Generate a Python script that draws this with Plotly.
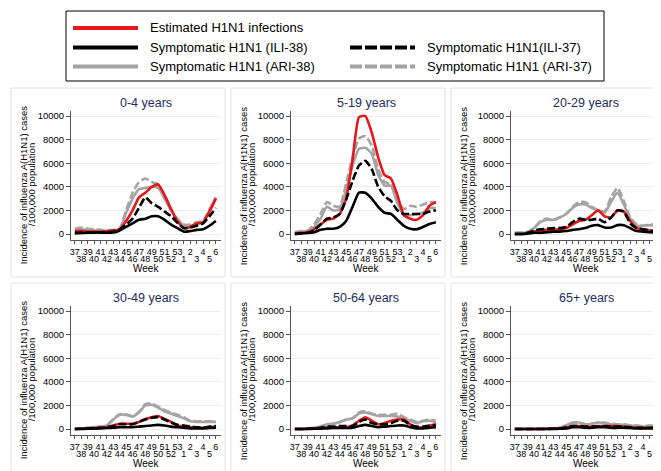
import plotly.graph_objects as go

W, H = 661, 471

weeks = [37, 38, 39, 40, 41, 42, 43, 44, 45, 46, 47, 48, 49, 50, 51, 52, 53, 1, 2, 3, 4, 5, 6]
week_labels = [str(w) for w in weeks]
age_groups = ["0-4 years", "5-19 years", "20-29 years", "30-49 years", "50-64 years", "65+ years"]
y_ticks = [0, 2000, 4000, 6000, 8000, 10000]

# 0-4 years
est_0_4 = [250, 280, 200, 200, 200, 250, 300, 400, 1100, 2000, 3100, 3500, 4000, 4200, 3300, 2100, 1100, 500, 600, 900, 1000, 1900, 3000]
ili38_0_4 = [50, 80, 100, 120, 120, 100, 120, 300, 600, 900, 1200, 1300, 1500, 1500, 1200, 800, 500, 200, 250, 350, 400, 700, 1100]
ili37_0_4 = [100, 120, 150, 150, 150, 150, 200, 400, 800, 1300, 2200, 3100, 2600, 2300, 1900, 1500, 950, 500, 550, 700, 900, 1500, 2200]
ari38_0_4 = [350, 400, 350, 300, 300, 250, 300, 400, 1800, 3000, 3800, 3900, 4000, 3900, 3000, 2000, 1300, 700, 700, 800, 1000, 2000, 3100]
ari37_0_4 = [450, 550, 450, 400, 350, 300, 350, 450, 2000, 3500, 4400, 4700, 4400, 4200, 3300, 2200, 1200, 800, 800, 1000, 1100, 2100, 3100]

# 5-19 years
est_5_19 = [50, 100, 150, 400, 800, 1200, 1300, 1700, 3000, 6300, 9900, 10000, 8600, 6500, 5000, 4700, 3300, 1600, 1300, 1200, 1600, 2400, 2700]
ili38_5_19 = [0, 50, 80, 150, 350, 450, 450, 600, 1100, 2300, 3500, 3500, 3000, 2300, 1800, 1700, 1200, 700, 450, 400, 600, 850, 1000]
ili37_5_19 = [0, 50, 100, 300, 800, 1300, 1400, 1700, 2900, 4500, 5800, 6200, 5500, 4000, 3200, 2800, 2000, 1700, 1700, 1700, 1700, 1900, 2000]
ari38_5_19 = [100, 200, 250, 600, 1300, 2300, 2000, 2100, 3800, 5800, 7200, 7300, 6800, 5000, 4100, 4100, 2600, 1600, 1600, 1700, 1800, 2200, 2200]
ari37_5_19 = [150, 250, 300, 800, 1700, 2700, 2400, 2300, 4300, 6500, 8100, 8300, 7500, 5500, 4400, 4200, 3000, 2100, 2400, 2300, 2500, 2700, 2700]

# 20-29 years
est_20_29 = [0, 0, 50, 200, 300, 350, 350, 400, 500, 800, 1100, 1200, 1600, 2000, 1500, 1400, 2000, 1900, 1100, 500, 400, 300, 100]
ili38_20_29 = [0, 0, 30, 100, 100, 150, 200, 200, 250, 350, 400, 500, 700, 750, 550, 550, 750, 750, 500, 250, 200, 150, 100]
ili37_20_29 = [0, 0, 100, 300, 400, 450, 500, 500, 600, 1000, 1300, 1200, 1200, 1300, 1000, 1400, 2000, 1900, 900, 500, 400, 300, 250]
ari38_20_29 = [100, 100, 150, 500, 1000, 1200, 1200, 1400, 1700, 2200, 2500, 2500, 2200, 2000, 1800, 2700, 3500, 2500, 1300, 700, 700, 750, 700]
ari37_20_29 = [100, 100, 200, 500, 1100, 1300, 1200, 1400, 1700, 2300, 2700, 2700, 2300, 2000, 1900, 3100, 3900, 2800, 1400, 800, 700, 800, 800]

# 30-49 years
est_30_49 = [0, 20, 50, 80, 100, 150, 300, 450, 450, 450, 600, 850, 1000, 1100, 850, 600, 300, 200, 150, 100, 100, 150, 200]
ili38_30_49 = [0, 0, 20, 30, 50, 80, 100, 150, 150, 150, 200, 250, 300, 350, 300, 200, 150, 100, 50, 50, 50, 80, 100]
ili37_30_49 = [0, 20, 50, 80, 100, 150, 250, 400, 400, 400, 600, 800, 950, 1000, 800, 550, 350, 300, 200, 150, 100, 200, 250]
ari38_30_49 = [0, 50, 100, 150, 200, 300, 800, 1200, 1200, 1050, 1400, 2000, 2050, 1800, 1500, 1300, 1100, 900, 650, 600, 600, 600, 600]
ari37_30_49 = [0, 50, 100, 150, 200, 300, 850, 1250, 1250, 1100, 1450, 2100, 2150, 1900, 1600, 1400, 1200, 1000, 700, 650, 650, 650, 650]

# 50-64 years
est_50_64 = [0, 0, 20, 50, 100, 150, 150, 150, 150, 300, 700, 1000, 700, 400, 500, 700, 800, 800, 400, 150, 150, 250, 450]
ili38_50_64 = [0, 0, 0, 20, 30, 50, 80, 80, 80, 100, 250, 350, 250, 150, 200, 250, 300, 300, 150, 50, 50, 100, 150]
ili37_50_64 = [0, 0, 20, 50, 100, 200, 200, 250, 250, 250, 600, 800, 500, 400, 400, 500, 700, 700, 350, 200, 200, 300, 300]
ari38_50_64 = [0, 0, 50, 100, 200, 400, 450, 600, 800, 900, 1300, 1400, 1250, 1100, 1100, 1100, 1050, 900, 700, 500, 650, 700, 600]
ari37_50_64 = [0, 0, 50, 100, 200, 400, 450, 600, 800, 900, 1400, 1500, 1300, 1200, 1200, 1200, 1300, 1000, 800, 600, 700, 800, 700]

# 65+ years
est_65 = [0, 0, 0, 0, 0, 20, 30, 50, 100, 250, 250, 200, 200, 250, 250, 250, 250, 200, 150, 100, 100, 100, 100]
ili38_65 = [0, 0, 0, 0, 0, 0, 10, 20, 50, 150, 150, 100, 100, 150, 150, 100, 100, 100, 80, 50, 50, 50, 50]
ili37_65 = [0, 0, 0, 0, 0, 10, 20, 50, 150, 250, 250, 200, 200, 200, 250, 200, 200, 200, 150, 100, 100, 100, 100]
ari38_65 = [0, 0, 0, 0, 20, 30, 50, 100, 300, 550, 550, 400, 450, 550, 500, 400, 350, 350, 300, 250, 200, 250, 250]
ari37_65 = [0, 0, 0, 0, 20, 30, 50, 100, 300, 500, 500, 400, 450, 550, 550, 450, 400, 400, 300, 300, 250, 300, 300]

panels = [
    (est_0_4, ili38_0_4, ili37_0_4, ari38_0_4, ari37_0_4),
    (est_5_19, ili38_5_19, ili37_5_19, ari38_5_19, ari37_5_19),
    (est_20_29, ili38_20_29, ili37_20_29, ari38_20_29, ari37_20_29),
    (est_30_49, ili38_30_49, ili37_30_49, ari38_30_49, ari37_30_49),
    (est_50_64, ili38_50_64, ili37_50_64, ari38_50_64, ari37_50_64),
    (est_65, ili38_65, ili37_65, ari38_65, ari37_65),
]

names = ["Estimated H1N1 infections", "Symptomatic H1N1 (ILI-38)", "Symptomatic H1N1(ILI-37)",
         "Symptomatic H1N1 (ARI-38)", "Symptomatic H1N1 (ARI-37)"]
RED = "#e8161b"
GREY = "#a4a4a4"
colors = [RED, "black", "black", GREY, GREY]
dashes = ["solid", "solid", "8px,3px", "solid", "8px,3px"]
draw_order = [4, 3, 0, 1, 2]

FONT = "Arial, Liberation Sans, sans-serif"
TITLE_COLOR = "#1f2d5c"
AX_COLOR = "#555555"


def fx(p):
    return p / W


def fy(p):
    return 1 - p / H


col_left = [63, 283, 503]
plot_w = 150
row_top = [103.3, 298.3]
plot_h = 128.6

fig = go.Figure()
x_idx = list(range(len(weeks)))

shapes = []
annotations = []
layout = {}

for k, series in enumerate(panels):
    r, c = divmod(k, 3)
    n = k + 1
    x0, y0 = col_left[c], row_top[r]
    xs = "" if n == 1 else str(n)
    for j in draw_order:
        fig.add_trace(go.Scatter(
            x=x_idx, y=series[j], mode="lines", name=names[j], showlegend=False,
            line=dict(color=colors[j], width=2.6, dash=dashes[j], shape="spline", smoothing=0.5),
            xaxis="x" + xs, yaxis="y" + xs, hoverinfo="skip"))
    # helper trace so the second tick-label row axis exists
    fig.add_trace(go.Scatter(x=[None], y=[None], xaxis="x" + str(n + 6), yaxis="y" + xs,
                             showlegend=False, hoverinfo="skip"))

    dom_x = [fx(x0), fx(x0 + plot_w)]
    dom_y = [fy(y0 + plot_h), fy(y0)]
    layout["xaxis" + xs] = dict(
        domain=dom_x, anchor="y" + xs, range=[-0.6, 22.8],
        tickmode="array", tickvals=x_idx,
        ticktext=[lab if i % 2 == 0 else "" for i, lab in enumerate(week_labels)],
        ticks="outside", ticklen=3, tickcolor=AX_COLOR, showline=True, linecolor=AX_COLOR,
        showgrid=False, zeroline=False, tickfont=dict(size=9, color="black", family=FONT))
    # second row of week labels: invisible longer ticks push the labels down
    layout["xaxis" + str(n + 6)] = dict(
        domain=dom_x, anchor="y" + xs, overlaying="x" + xs, range=[-0.6, 22.8],
        tickmode="array", tickvals=x_idx[1::2], ticktext=week_labels[1::2],
        ticks="outside", ticklen=10.5, tickcolor="rgba(0,0,0,0)",
        showline=False, showgrid=False, zeroline=False,
        tickfont=dict(size=9, color="black", family=FONT))
    layout["yaxis" + xs] = dict(
        domain=dom_y, anchor="x" + xs, range=[-500, 10400],
        tickmode="array", tickvals=y_ticks, ticktext=[str(v) for v in y_ticks],
        ticks="outside", ticklen=4, tickcolor=AX_COLOR,
        showline=True, linecolor=AX_COLOR, showgrid=True, gridcolor="#ececec", zeroline=False,
        tickfont=dict(size=9.5, color="black", family=FONT))

    cx = x0 + plot_w / 2
    annotations.append(dict(x=fx(cx), y=fy(y0 - 8), xref="paper", yref="paper", text=age_groups[k],
                            showarrow=False, font=dict(size=12.5, color=TITLE_COLOR, family=FONT),
                            xanchor="center", yanchor="middle"))
    annotations.append(dict(x=fx(cx), y=fy(y0 + plot_h + 28.5), xref="paper", yref="paper", text="Week",
                            showarrow=False, font=dict(size=10, color="black", family=FONT),
                            xanchor="center", yanchor="middle"))
    # two-line y title, kept tight like the original
    for dx, txt in ((-48, "Incidence of influenza A(H1N1) cases"), (-40, "/100,000 population")):
        annotations.append(dict(x=fx(x0 + dx), y=fy(y0 + 74), xref="paper", yref="paper", text=txt,
                                textangle=-90, showarrow=False,
                                font=dict(size=9.5, color="black", family=FONT),
                                xanchor="center", yanchor="middle"))

# faint outlines of each sub-graph
box_x = [(3, 217), (223, 437), (443, 657)]
box_y = [(80, 269), (275, 465)]
for (bx0, bx1) in box_x:
    for (by0, by1) in box_y:
        shapes.append(dict(type="rect", xref="paper", yref="paper", x0=fx(bx0), x1=fx(bx1),
                           y0=fy(by1), y1=fy(by0), line=dict(color="#e2e2e2", width=1)))

# legend box
shapes.append(dict(type="rect", xref="paper", yref="paper", x0=fx(58), x1=fx(596), y0=fy(73), y1=fy(3),
                   line=dict(color="black", width=1), fillcolor="white"))
legend_slots = [(0, 0, 20), (1, 0, 39.5), (2, 1, 39.5), (3, 0, 58.5), (4, 1, 58.5)]
leg_col_x = [65, 342]
for j, col, ly in legend_slots:
    lx = leg_col_x[col]
    shapes.append(dict(type="line", xref="paper", yref="paper", x0=fx(lx), x1=fx(lx + 65),
                       y0=fy(ly), y1=fy(ly),
                       line=dict(color=colors[j], width=4,
                                 dash="solid" if dashes[j] == "solid" else "12px,3px")))
    annotations.append(dict(x=fx(lx + 75), y=fy(ly), xref="paper", yref="paper", text=names[j],
                            showarrow=False, font=dict(size=13, color="black", family=FONT),
                            xanchor="left", yanchor="middle"))

fig.update_layout(
    width=W, height=H, autosize=False,
    margin=dict(l=0, r=0, t=0, b=0),
    paper_bgcolor="white", plot_bgcolor="white",
    showlegend=False,
    shapes=shapes, annotations=annotations,
    **layout)

fig.write_html("out.html")
